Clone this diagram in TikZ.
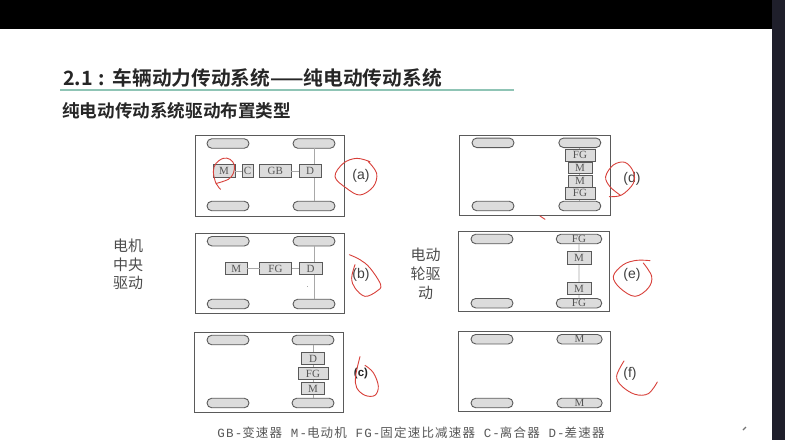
\documentclass[tikz,border=0pt]{standalone}
\usepackage{fontspec}
\setmainfont{Liberation Serif}
\newfontfamily\cjkb{Noto Sans CJK SC Bold}
\newfontfamily\cjk{Noto Sans CJK SC}
\newfontfamily\lab{Liberation Sans}
\newfontfamily\capfont[LetterSpace=9.5]{Liberation Mono}
\newfontfamily\capcjk[LetterSpace=9.5]{Noto Sans CJK SC}
\usetikzlibrary{shapes.misc}
\definecolor{edge}{HTML}{5A5A5A}
\definecolor{fillg}{HTML}{DCDCDC}
\definecolor{shaft}{HTML}{A8A8A8}
\definecolor{pen}{HTML}{D8403A}
\definecolor{txt}{HTML}{555555}
\definecolor{barc}{HTML}{1F1F2B}
\definecolor{rulec}{HTML}{8FC4B5}
\tikzset{
 car/.style={draw=edge,line width=1pt,fill=white,rectangle,inner sep=0,outer sep=0,minimum width=149pt,minimum height=80.5pt},
 wheel/.style={rounded rectangle,draw=edge,line width=.9pt,fill=fillg,minimum width=42pt,minimum height=9.5pt,inner sep=0,outer sep=0,font=\fontsize{11}{11}\selectfont,text=txt},
 part/.style={rectangle,draw=edge,line width=.9pt,fill=fillg,inner sep=0,outer sep=0,minimum height=12.5pt,font=\fontsize{11}{11}\selectfont,text=txt},
 link/.style={draw=shaft,line width=.8pt},
 tag/.style={font=\lab\fontsize{14}{14}\selectfont,text=black!75,inner sep=0},
 side/.style={font=\cjk\fontsize{15}{15}\selectfont,text=black!70,inner sep=0},
 redpen/.style={draw=pen,line width=.9pt,line cap=round,line join=round},
 zm/.style={x=.3333pt,y=-.3333pt},
}
\begin{document}
\begin{tikzpicture}[x=1pt,y=-1pt]
\useasboundingbox (0,0) rectangle (785,440);
\fill[white] (0,0) rectangle (785,440);
\fill[black] (0,0) rectangle (772,29);
\fill[barc] (772,0) rectangle (785,440);
% headings
\node[anchor=west,inner sep=0,font=\cjkb\fontsize{19.7}{19.7}\selectfont,text=black!85] (title) at (63,78) {2.1\hspace{6pt}:\hspace{7.5pt}车辆动力传动系统——纯电动传动系统};
\fill[rulec] (60,88.5) rectangle (514,90.5);
\node[anchor=west,inner sep=0,font=\cjkb\fontsize{17.6}{17.6}\selectfont,text=black!85] (subtitle) at (62,110.5) {纯电动传动系统驱动布置类型};
% side labels
\node[side] (s1) at (128,246) {电机};
\node[side] (s2) at (128,265) {中央};
\node[side] (s3) at (128,283) {驱动};
\node[side] (s4) at (425.5,255) {电动};
\node[side] (s5) at (425.5,274) {轮驱};
\node[side] (s6) at (425.5,293) {动};
% (a)
\node[car] (carA) at (269.5,176) {};
\node[wheel] (a1) at (228,143.5) {};
\node[wheel] (a2) at (314,143.5) {};
\node[wheel] (a3) at (228,206) {};
\node[wheel] (a4) at (314,206) {};
\draw[link] (a2) -- (a4);
\node[part,minimum width=22pt] (aM) at (224,171) {M};
\node[part,minimum width=11pt] (aC) at (247.5,171) {C};
\node[part,minimum width=31.5pt] (aG) at (275.2,171) {GB};
\node[part,minimum width=22.5pt] (aD) at (310.2,171) {D};
\draw[link] (aM) -- (aC);
\draw[link] (aG) -- (aD);
\node[tag] (la) at (361,176) {(a)};
% (b)
\node[car] (carB) at (269.5,273.5) {};
\node[wheel] (b1) at (228.2,241.2) {};
\node[wheel] (b2) at (314,241.2) {};
\node[wheel] (b3) at (228.2,304) {};
\node[wheel] (b4) at (314,304) {};
\draw[link] (b2) -- (b4);
\node[part,minimum width=21.5pt] (bM) at (236.2,268.5) {M};
\node[part,minimum width=32pt] (bF) at (275.5,268.5) {FG};
\node[part,minimum width=23pt] (bD) at (310.5,268.5) {D};
\draw[link] (bM) -- (bF);
\draw[link] (bF) -- (bD);
\fill[shaft] (306.5,285.5) rectangle (307.5,286.5);
\node[tag] (lb) at (361,275) {(b)};
% (c)
\node[car] (carC) at (268.7,372.5) {};
\node[wheel] (c1) at (228,340) {};
\node[wheel] (c2) at (313,340) {};
\node[wheel] (c3) at (228,403) {};
\node[wheel] (c4) at (313,403) {};
\draw[link] (c2) -- (c4);
\node[part,minimum width=23pt] (cD) at (313,358.5) {D};
\node[part,minimum width=30pt] (cF) at (313,373.5) {FG};
\node[part,minimum width=23pt] (cM) at (313,388.5) {M};
\node[tag,font=\lab\bfseries\fontsize{11.5}{11.5}\selectfont,text=black!85] (lc) at (361,374) {(c)};
% (d)
\node[car,minimum width=151pt] (carD) at (534.5,175.5) {};
\node[wheel] (d1) at (493,142.8) {};
\node[wheel] (d2) at (579.8,142.8) {};
\node[wheel] (d3) at (493,206) {};
\node[wheel] (d4) at (579.8,206) {};
\draw[link] (d2) -- (d4);
\node[part,minimum width=30pt,minimum height=12pt] (dF1) at (580,155) {FG};
\node[part,minimum width=24pt,minimum height=11pt] (dM1) at (580,167.5) {M};
\node[part,minimum width=24pt,minimum height=12pt] (dM2) at (580,181) {M};
\node[part,minimum width=30pt,minimum height=11.5pt] (dF2) at (580,193.2) {FG};
\node[tag] (ld) at (632,179) {(d)};
% (e)
\node[car,minimum width=151pt] (carE) at (533.5,271.7) {};
\node[wheel] (e1) at (492,239) {};
\node[wheel,text width=42pt,align=center] (e2) at (579,239) {FG};
\node[wheel] (e3) at (492,303.2) {};
\node[wheel,text width=42pt,align=center] (e4) at (579,303.2) {FG};
\draw[link] (e2) -- (e4);
\node[part,minimum width=24pt] (eM1) at (579,258) {M};
\node[part,minimum width=24pt] (eM2) at (579,288.5) {M};
\node[tag] (le) at (632,275) {(e)};
% (f)
\node[car,minimum width=152pt] (carF) at (534,371.5) {};
\node[wheel] (f1) at (492,339.2) {};
\node[wheel,text width=42pt,align=center] (f2) at (579.5,339.2) {M};
\node[wheel] (f3) at (492,403) {};
\node[wheel,text width=42pt,align=center] (f4) at (579.5,403) {M};
\node[tag] (lf) at (630,374) {(f)};
% caption
\node[inner sep=0,text=black!65,font=\capfont\fontsize{12.5}{12.5}\selectfont] (cap) at (411,433) {GB-{\capcjk 变速器} M-{\capcjk 电动机} FG-{\capcjk 固定速比减速器} C-{\capcjk 离合器} D-{\capcjk 差速器}};
% red pen
\begin{scope}[shift={(190,130)},zm]
\draw[redpen] plot[smooth,tension=.6] coordinates {(92,178)(78,160)(70,125)(78,100)(100,85)(120,88)(133,105)(130,130)(115,148)(80,160)};
\draw[redpen] plot[smooth,tension=.6] coordinates {(535,95)(560,130)(550,170)(510,195)(470,175)(435,140)(460,100)(500,85)(540,95)};
\end{scope}
\begin{scope}[shift={(190,228)},zm]
\draw[redpen] plot[smooth,tension=.6] coordinates {(478,80)(510,95)(540,120)(572,170)(560,190)(525,205)(495,180)(485,150)(495,110)};
\end{scope}
\begin{scope}[shift={(190,326)},zm]
\draw[redpen] plot[smooth,tension=.6] coordinates {(510,92)(497,150)(500,185)(525,208)(555,208)(565,180)(550,140)(525,118)};
\end{scope}
\begin{scope}[shift={(450,130)},zm]
\draw[redpen] plot[smooth,tension=.6] coordinates {(478,200)(515,195)(550,160)(550,125)(525,97)(490,105)(467,140)(480,170)(510,195)};
\draw[redpen] (270,258) -- (285,268);
\end{scope}
\begin{scope}[shift={(450,228)},zm]
\draw[redpen] plot[smooth,tension=.6] coordinates {(600,98)(560,97)(520,110)(490,145)(510,180)(555,205)(595,180)(605,145)(580,105)};
\end{scope}
\begin{scope}[shift={(450,326)},zm]
\draw[redpen] plot[smooth,tension=.6] coordinates {(522,105)(500,150)(515,180)(555,205)(595,203)(622,168)};
\end{scope}
\draw[black!55,line width=1.2pt] (743,430) -- (746,427);
\end{tikzpicture}
\end{document}
